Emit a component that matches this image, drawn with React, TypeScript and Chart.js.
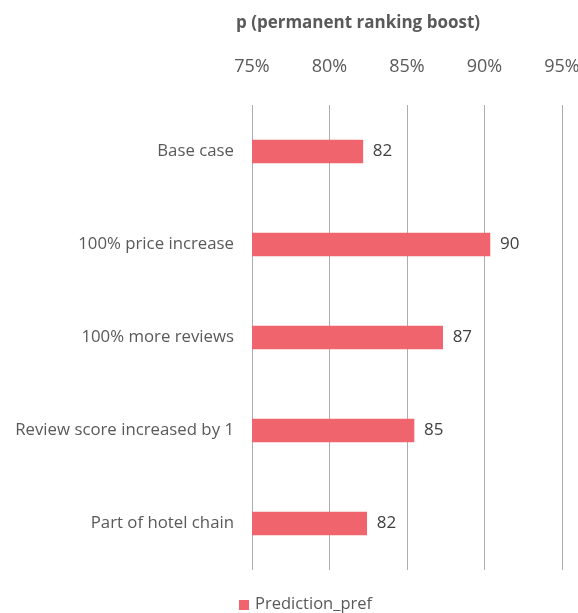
import React, { useEffect, useRef } from "react";
import { Chart, registerables } from "chart.js";

Chart.register(...registerables);

const categories = [
  "Base case",
  "100% price increase",
  "100% more reviews",
  "Review score increased by 1",
  "Part of hotel chain",
];
const predictionPref = [82.15, 90.35, 87.3, 85.45, 82.4];
const seriesName = "Prediction_pref";
const axisTitle = "p (permanent ranking boost)";
const xMin = 75;
const xMax = 95;
const xStep = 5;

const FONT = "'Open Sans', 'Noto Sans', sans-serif";
const BAR = "#F0646E";
const TEXT = "#595959";

const titlePlugin = {
  id: "topTitle",
  afterDraw(chart: any) {
    const ctx = chart.ctx;
    ctx.save();
    ctx.font = `bold 17px ${FONT}`;
    ctx.fillStyle = TEXT;
    ctx.textAlign = "center";
    ctx.textBaseline = "middle";
    ctx.fillText(axisTitle, 358, 23);
    ctx.restore();
  },
};

const bottomLegend = {
  id: "bottomLegend",
  afterDraw(chart: any) {
    const ctx = chart.ctx;
    const ds = chart.data.datasets[0];
    ctx.save();
    ctx.fillStyle = ds.backgroundColor;
    ctx.fillRect(239, 600, 10, 10);
    ctx.font = `16.5px ${FONT}`;
    ctx.fillStyle = TEXT;
    ctx.textAlign = "left";
    ctx.textBaseline = "middle";
    ctx.fillText(ds.label, 255, 604);
    ctx.restore();
  },
};

const valueLabels = {
  id: "valueLabels",
  afterDatasetsDraw(chart: any) {
    const ctx = chart.ctx;
    const meta = chart.getDatasetMeta(0);
    const data = chart.data.datasets[0].data as number[];
    ctx.save();
    ctx.font = `17px ${FONT}`;
    ctx.fillStyle = "#404040";
    ctx.textAlign = "left";
    ctx.textBaseline = "middle";
    meta.data.forEach((el: any, i: number) => {
      ctx.fillText(Number(data[i]).toFixed(0), el.x + 10, el.y);
    });
    ctx.restore();
  },
};

export default function App() {
  const ref = useRef<HTMLCanvasElement | null>(null);

  useEffect(() => {
    document.body.style.margin = "0";
    document.body.style.overflow = "hidden";
    const canvas = ref.current;
    if (!canvas) return;
    const chart = new Chart(canvas, {
      type: "bar",
      data: {
        labels: categories,
        datasets: [
          {
            label: seriesName,
            data: predictionPref,
            backgroundColor: BAR,
            borderWidth: 0,
            barThickness: 23,
          },
        ],
      },
      options: {
        indexAxis: "y",
        responsive: false,
        animation: false,
        layout: { padding: { left: 0, right: 16, top: 0, bottom: 43 } },
        scales: {
          x: {
            position: "top",
            min: xMin,
            max: xMax,
            ticks: {
              stepSize: xStep,
              padding: 27,
              color: TEXT,
              font: { family: FONT, size: 18 },
              callback: (v: any) => `${v}%`,
            },
            grid: { color: "#ADADAD", lineWidth: 1, drawTicks: false },
            border: { display: false },
            afterFit: (scale: any) => {
              scale.height = 105;
              scale.paddingLeft = 0;
              scale.paddingRight = 0;
            },
          },
          y: {
            ticks: {
              padding: 18,
              color: TEXT,
              font: { family: FONT, size: 16.8 },
            },
            grid: { display: false, drawTicks: false },
            border: { display: false },
            afterFit: (scale: any) => {
              scale.width = 252;
            },
          },
        },
        plugins: {
          legend: { display: false },
          tooltip: { enabled: false },
        },
      },
      plugins: [titlePlugin, valueLabels, bottomLegend],
    });
    return () => chart.destroy();
  }, []);

  return (
    <div style={{ width: 578, height: 613, position: "relative" }}>
      <canvas ref={ref} width={578} height={613} style={{ display: "block" }} />
    </div>
  );
}
